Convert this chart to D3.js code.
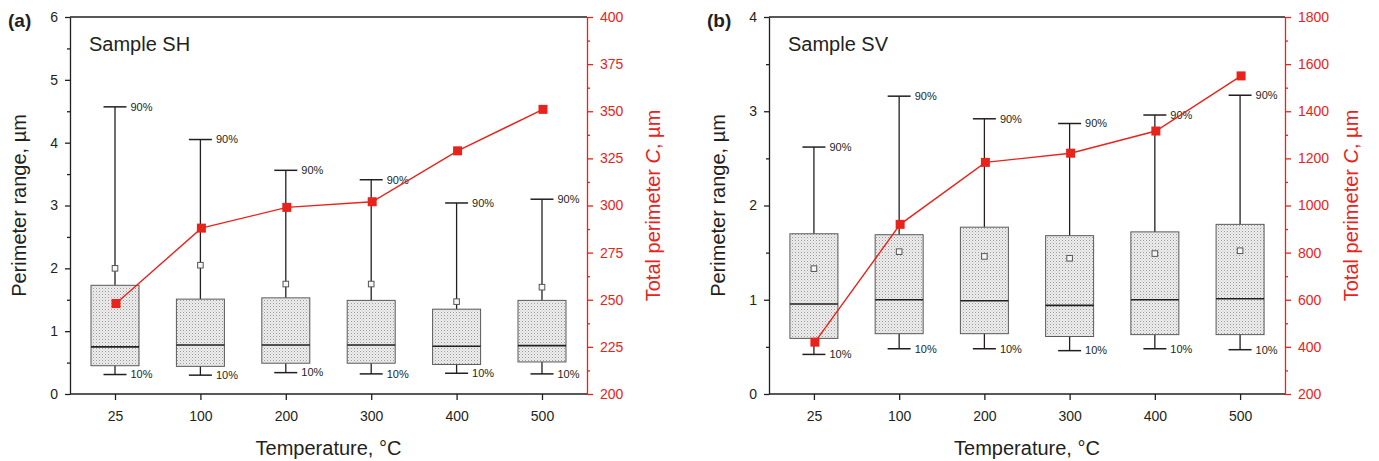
<!DOCTYPE html>
<html>
<head>
<meta charset="utf-8">
<script src="https://cdn.jsdelivr.net/npm/d3@7"></script>
<style>
  body { margin: 0; background: #fff; }
  svg { font-family: "Liberation Sans", Arial, sans-serif; }
</style>
</head>
<body>
<svg class="chart" width="1379" height="461"></svg>
<script>
// categories
var temps = ["25", "100", "200", "300", "400", "500"];

// sample SH (um)
var shP10  = [0.31, 0.30, 0.34, 0.32, 0.33, 0.32];
var shQ1   = [0.45, 0.44, 0.49, 0.49, 0.47, 0.51];
var shMed  = [0.75, 0.78, 0.78, 0.78, 0.76, 0.77];
var shQ3   = [1.73, 1.51, 1.53, 1.49, 1.35, 1.49];
var shP90  = [4.57, 4.05, 3.56, 3.41, 3.04, 3.10];
var shMean = [2.00, 2.05, 1.75, 1.75, 1.47, 1.70];
var shTotal = [248, 288, 299, 302, 329, 351];

// sample SV (um)
var svP10  = [0.42, 0.48, 0.48, 0.46, 0.48, 0.47];
var svQ1   = [0.59, 0.64, 0.64, 0.61, 0.63, 0.63];
var svMed  = [0.955, 1.00, 0.99, 0.94, 1.00, 1.01];
var svQ3   = [1.70, 1.69, 1.77, 1.68, 1.72, 1.80];
var svP90  = [2.62, 3.16, 2.92, 2.87, 2.96, 3.17];
var svMean = [1.33, 1.51, 1.46, 1.44, 1.49, 1.52];
var svTotal = [420, 920, 1183, 1222, 1316, 1550];

// tick labels
var shLeftTicks = [0, 1, 2, 3, 4, 5, 6];
var shRightTicks = [200, 225, 250, 275, 300, 325, 350, 375, 400];
var svLeftTicks = [0, 1, 2, 3, 4];
var svRightTicks = [200, 400, 600, 800, 1000, 1200, 1400, 1600, 1800];

var red = "#e8231c";
var dark = "#231f20";

var svg = d3.select(".chart");

// stipple fill for the boxes
var pat = svg.append("defs").append("pattern")
    .attr("id", "dots")
    .attr("patternUnits", "userSpaceOnUse")
    .attr("width", 3).attr("height", 3);
pat.append("rect").attr("width", 3).attr("height", 3).attr("fill", "#eeeeee");
pat.append("rect").attr("width", 1).attr("height", 1).attr("fill", "#999999");
pat.append("rect").attr("x", 1.5).attr("y", 1.5).attr("width", 1).attr("height", 1).attr("fill", "#bdbdbd");

var panels = [
  {tag: "(a)", name: "Sample SH", x0: 70, x1: 587, left: [0, 6], right: [200, 400],
   lt: shLeftTicks, rt: shRightTicks, rMinor: 12.5,
   p10: shP10, q1: shQ1, med: shMed, q3: shQ3, p90: shP90, mean: shMean, total: shTotal},
  {tag: "(b)", name: "Sample SV", x0: 769, x1: 1285, left: [0, 4], right: [200, 1800],
   lt: svLeftTicks, rt: svRightTicks, rMinor: 100,
   p10: svP10, q1: svQ1, med: svMed, q3: svQ3, p90: svP90, mean: svMean, total: svTotal}
];

var yTop = 17, yBot = 394;

panels.forEach(function(p) {
  var g = svg.append("g");

  var xS = d3.scalePoint().domain(temps).range([p.x0, p.x1]).padding(0.527);
  var yL = d3.scaleLinear().domain(p.left).range([yBot, yTop]);
  var yR = d3.scaleLinear().domain(p.right).range([yBot, yTop]);

  var leftMinor = d3.range(p.left[0] + 0.5, p.left[1], 1);
  var rightMinor = d3.range(p.right[0] + p.rMinor, p.right[1], p.rMinor * 2);

  // frame top
  g.append("line")
   .attr("x1", p.x0).attr("x2", p.x1)
   .attr("y1", yTop).attr("y2", yTop)
   .attr("stroke", dark).attr("stroke-width", 1.3);

  var rows = temps.map(function(t, i) {
    return {t: t, p10: p.p10[i], q1: p.q1[i], med: p.med[i], q3: p.q3[i],
            p90: p.p90[i], mean: p.mean[i], total: p.total[i]};
  });

  var bw = 48, cw = 23;
  var box = g.selectAll(".box").data(rows).enter().append("g").attr("class", "box");

  box.append("line")
     .attr("x1", d => xS(d.t)).attr("x2", d => xS(d.t))
     .attr("y1", d => yL(d.p10)).attr("y2", d => yL(d.q1))
     .attr("stroke", dark).attr("stroke-width", 1.3);
  box.append("line")
     .attr("x1", d => xS(d.t)).attr("x2", d => xS(d.t))
     .attr("y1", d => yL(d.q3)).attr("y2", d => yL(d.p90))
     .attr("stroke", dark).attr("stroke-width", 1.3);
  box.append("line")
     .attr("x1", d => xS(d.t) - cw / 2).attr("x2", d => xS(d.t) + cw / 2)
     .attr("y1", d => yL(d.p10)).attr("y2", d => yL(d.p10))
     .attr("stroke", dark).attr("stroke-width", 1.5);
  box.append("line")
     .attr("x1", d => xS(d.t) - cw / 2).attr("x2", d => xS(d.t) + cw / 2)
     .attr("y1", d => yL(d.p90)).attr("y2", d => yL(d.p90))
     .attr("stroke", dark).attr("stroke-width", 1.5);
  box.append("rect")
     .attr("x", d => xS(d.t) - bw / 2)
     .attr("y", d => yL(d.q3))
     .attr("width", bw)
     .attr("height", d => yL(d.q1) - yL(d.q3))
     .attr("fill", "url(#dots)")
     .attr("stroke", "#5a5a5a").attr("stroke-width", 1);
  box.append("line")
     .attr("x1", d => xS(d.t) - bw / 2).attr("x2", d => xS(d.t) + bw / 2)
     .attr("y1", d => yL(d.med)).attr("y2", d => yL(d.med))
     .attr("stroke", dark).attr("stroke-width", 1.6);
  box.append("rect")
     .attr("x", d => xS(d.t) - 2.8).attr("y", d => yL(d.mean) - 2.8)
     .attr("width", 5.6).attr("height", 5.6)
     .attr("fill", "#f6f6f6").attr("stroke", "#555").attr("stroke-width", 1);
  box.append("text")
     .attr("x", d => xS(d.t) + cw / 2 + 4).attr("y", d => yL(d.p90))
     .attr("dy", "0.35em").attr("font-size", "11px").attr("fill", dark)
     .text("90%");
  box.append("text")
     .attr("x", d => xS(d.t) + cw / 2 + 4).attr("y", d => yL(d.p10))
     .attr("dy", "0.35em").attr("font-size", "11px").attr("fill", dark)
     .text("10%");

  // total perimeter line
  g.append("path")
   .datum(rows)
   .attr("fill", "none").attr("stroke", red).attr("stroke-width", 1.4)
   .attr("d", d3.line().x(d => xS(d.t) + 1).y(d => yR(d.total)));
  g.selectAll(".mk").data(rows).enter().append("rect")
   .attr("class", "mk")
   .attr("x", d => xS(d.t) + 1 - 4.5).attr("y", d => yR(d.total) - 4.5)
   .attr("width", 9).attr("height", 9).attr("fill", red);

  // axes
  g.append("g").attr("transform", "translate(" + p.x0 + ",0)")
   .call(d3.axisLeft(yL).tickValues(p.lt).tickFormat(d3.format("d"))
         .tickSize(5).tickSizeOuter(0).tickPadding(7));
  g.append("g").attr("transform", "translate(" + p.x0 + ",0)")
   .call(d3.axisLeft(yL).tickValues(leftMinor).tickSize(3).tickFormat("").tickSizeOuter(0))
   .select(".domain").remove();

  var axR = g.append("g").attr("transform", "translate(" + p.x1 + ",0)")
   .call(d3.axisRight(yR).tickValues(p.rt).tickFormat(d3.format("d"))
         .tickSize(6).tickSizeOuter(0).tickPadding(7));
  var axRm = g.append("g").attr("transform", "translate(" + p.x1 + ",0)")
   .call(d3.axisRight(yR).tickValues(rightMinor).tickSize(3).tickFormat("").tickSizeOuter(0));
  axRm.select(".domain").remove();

  var axB = g.append("g").attr("transform", "translate(0," + yBot + ")")
   .call(d3.axisBottom(xS).tickSize(6).tickSizeOuter(0).tickPadding(11));
  axB.select(".domain").attr("d", "M" + p.x0 + ",0H" + p.x1);

  g.selectAll(".tick text").attr("font-size", "14px").attr("font-family", null).attr("fill", dark);
  g.selectAll(".domain, .tick line").attr("stroke", dark).attr("stroke-width", 1.3);
  axR.selectAll(".domain, .tick line").attr("stroke", red);
  axR.selectAll(".tick text").attr("fill", red);
  axRm.selectAll(".tick line").attr("stroke", red);

  // titles
  g.append("text").attr("x", p.x0 - 62).attr("y", 27)
   .attr("font-size", "19px").attr("font-weight", "bold").attr("fill", dark)
   .text(p.tag);
  g.append("text").attr("x", p.x0 + 19).attr("y", 50.7)
   .attr("font-size", "20px").attr("fill", dark)
   .text(p.name);

  g.append("text")
   .attr("transform", "translate(" + (p.x0 - 44) + "," + ((yTop + yBot) / 2) + ") rotate(-90)")
   .attr("text-anchor", "middle").attr("font-size", "20px").attr("fill", dark)
   .text("Perimeter range, µm");

  var rl = g.append("text")
   .attr("transform", "translate(" + (p.x1 + 72.5) + "," + ((yTop + yBot) / 2) + ") rotate(-90)")
   .attr("text-anchor", "middle").attr("font-size", "20px").attr("fill", red);
  rl.append("tspan").text("Total perimeter ");
  rl.append("tspan").attr("font-style", "italic").text("C");
  rl.append("tspan").text(", µm");

  g.append("text")
   .attr("x", (p.x0 + p.x1) / 2).attr("y", 455)
   .attr("text-anchor", "middle").attr("font-size", "20px").attr("fill", dark)
   .text("Temperature, °C");
});
</script>
</body>
</html>
